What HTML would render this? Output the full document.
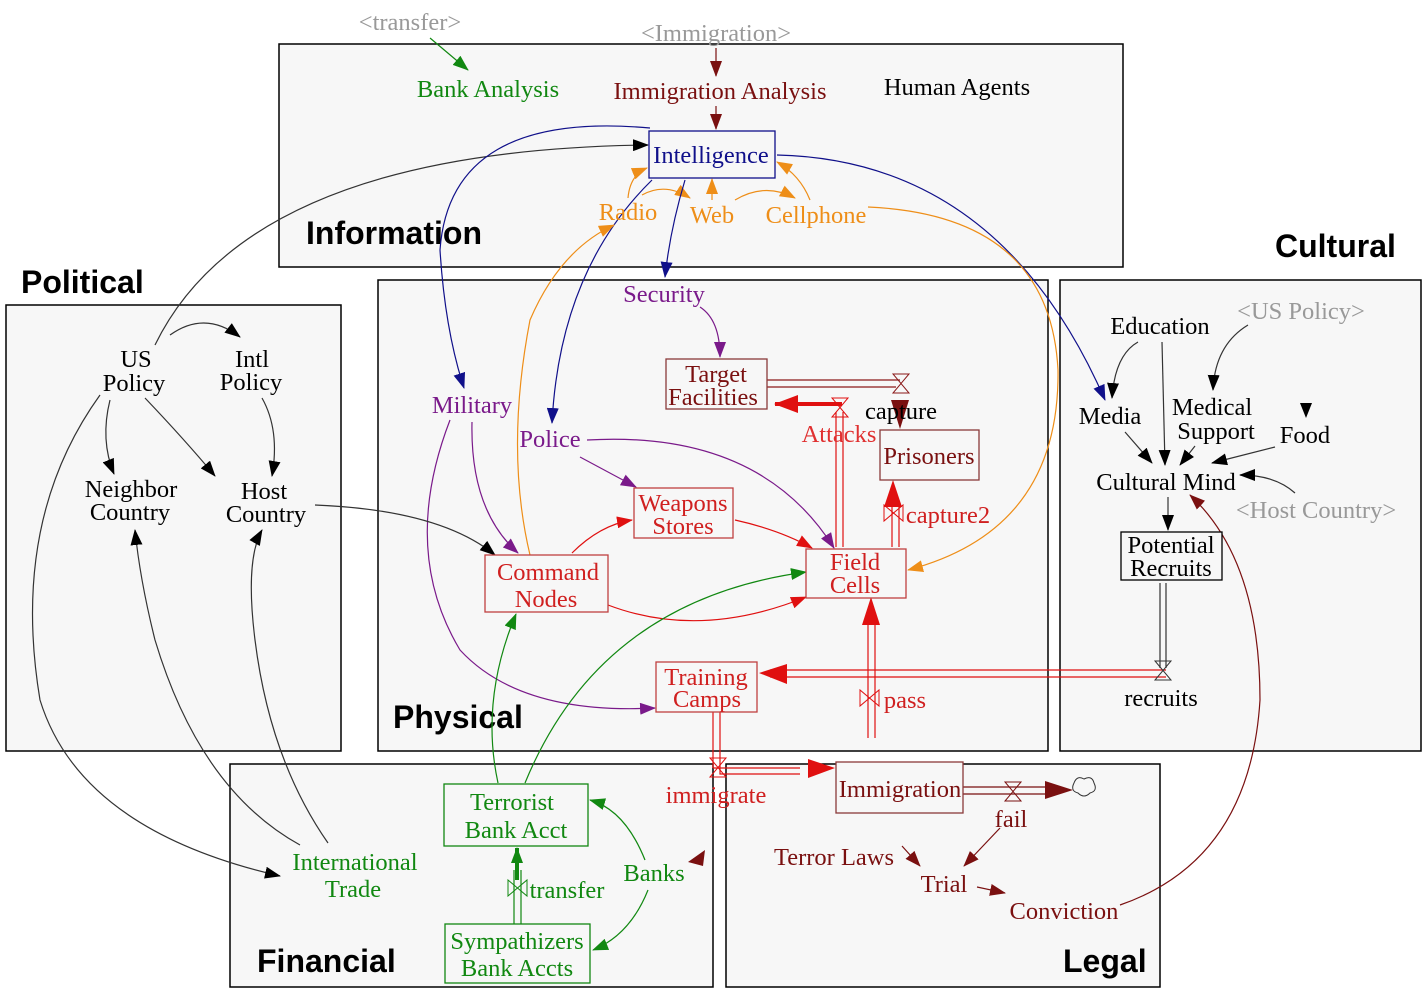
<!DOCTYPE html>
<html><head><meta charset="utf-8"><style>
body{margin:0;background:#fff}
svg text{font-family:"Liberation Serif",serif;font-size:24.5px}
.t{font-family:"Liberation Sans",sans-serif;font-weight:bold;font-size:32px;fill:#000}
.p{fill:#f7f7f7;stroke:#000;stroke-width:1.5}
</style></head><body>
<svg width="1422" height="1000" viewBox="0 0 1422 1000" xmlns="http://www.w3.org/2000/svg">
<defs>
<marker id="g" markerWidth="16" markerHeight="12" refX="15" refY="6" orient="auto" markerUnits="userSpaceOnUse" viewBox="0 0 16 12"><path d="M0,0 L16,6 L0,12z" fill="#118811"/></marker>
<marker id="d" markerWidth="16" markerHeight="12" refX="15" refY="6" orient="auto" markerUnits="userSpaceOnUse" viewBox="0 0 16 12"><path d="M0,0 L16,6 L0,12z" fill="#7a1010"/></marker>
<marker id="r" markerWidth="16" markerHeight="12" refX="15" refY="6" orient="auto" markerUnits="userSpaceOnUse" viewBox="0 0 16 12"><path d="M0,0 L16,6 L0,12z" fill="#e01010"/></marker>
<marker id="R" markerWidth="24" markerHeight="18" refX="23" refY="9" orient="auto" markerUnits="userSpaceOnUse" viewBox="0 0 24 18"><path d="M0,0 L24,9 L0,18z" fill="#e01010"/></marker>
<marker id="u" markerWidth="16" markerHeight="12" refX="15" refY="6" orient="auto" markerUnits="userSpaceOnUse" viewBox="0 0 16 12"><path d="M0,0 L16,6 L0,12z" fill="#7a1a8a"/></marker>
<marker id="o" markerWidth="16" markerHeight="12" refX="15" refY="6" orient="auto" markerUnits="userSpaceOnUse" viewBox="0 0 16 12"><path d="M0,0 L16,6 L0,12z" fill="#ee8e18"/></marker>
<marker id="n" markerWidth="16" markerHeight="12" refX="15" refY="6" orient="auto" markerUnits="userSpaceOnUse" viewBox="0 0 16 12"><path d="M0,0 L16,6 L0,12z" fill="#10108a"/></marker>
<marker id="b" markerWidth="16" markerHeight="12" refX="15" refY="6" orient="auto" markerUnits="userSpaceOnUse" viewBox="0 0 16 12"><path d="M0,0 L16,6 L0,12z" fill="#000"/></marker>
</defs>
<rect class="p" x="279" y="44" width="844" height="223"/>
<rect class="p" x="6" y="305" width="335" height="446"/>
<rect class="p" x="378" y="280" width="670" height="471"/>
<rect class="p" x="1060" y="280" width="361" height="471"/>
<rect class="p" x="230" y="764" width="483" height="223"/>
<rect class="p" x="726" y="764" width="434" height="223"/>
<text class="t" x="306" y="244">Information</text>
<text class="t" x="21" y="293">Political</text>
<text class="t" x="1275" y="257">Cultural</text>
<text class="t" x="393" y="728">Physical</text>
<text class="t" x="257" y="972">Financial</text>
<text class="t" x="1063" y="972">Legal</text>
<g fill="none" stroke-width="1.2">
<path d="M430,38 L468,70" stroke="#118811" marker-end="url(#g)"/>
<path d="M716,48 L716,76" stroke="#7a1010" marker-end="url(#d)"/>
<path d="M716,106 L716,129" stroke="#7a1010" marker-end="url(#d)"/>
<path d="M628,198 Q630,175 647,168" stroke="#ee8e18" marker-end="url(#o)"/>
<path d="M712,200 L712,179" stroke="#ee8e18" marker-end="url(#o)"/>
<path d="M810,200 Q800,175 777,162" stroke="#ee8e18" marker-end="url(#o)"/>
<path d="M642,195 Q665,182 690,198" stroke="#ee8e18" marker-end="url(#o)"/>
<path d="M735,200 Q765,182 795,198" stroke="#ee8e18" marker-end="url(#o)"/>
<path d="M155,345 Q250,150 648,145" stroke="#333" marker-end="url(#b)"/>
<path d="M650,128 Q450,110 440,250 Q445,330 464,388" stroke="#10108a" marker-end="url(#n)"/>
<path d="M652,180 Q560,270 552,423" stroke="#10108a" marker-end="url(#n)"/>
<path d="M685,180 Q670,230 665,277" stroke="#10108a" marker-end="url(#n)"/>
<path d="M777,155 Q1000,160 1105,400" stroke="#10108a" marker-end="url(#n)"/>
<path d="M868,207 Q1050,215 1058,370 Q1060,530 908,570" stroke="#ee8e18" marker-end="url(#o)"/>
<path d="M530,555 Q505,450 530,320 Q560,250 614,225" stroke="#ee8e18" marker-end="url(#o)"/>
<path d="M700,307 Q720,320 720,357" stroke="#7a1a8a" marker-end="url(#u)"/>
<path d="M472,422 Q470,510 518,553" stroke="#7a1a8a" marker-end="url(#u)"/>
<path d="M580,457 L636,487" stroke="#7a1a8a" marker-end="url(#u)"/>
<path d="M587,440 Q760,430 834,548" stroke="#7a1a8a" marker-end="url(#u)"/>
<path d="M450,420 Q400,550 460,650 Q520,715 655,708" stroke="#7a1a8a" marker-end="url(#u)"/>
<path d="M572,553 Q600,525 632,520" stroke="#e01010" marker-end="url(#r)"/>
<path d="M735,520 Q780,530 812,548" stroke="#e01010" marker-end="url(#r)"/>
<path d="M608,605 Q700,640 806,597" stroke="#e01010" marker-end="url(#r)"/>
<path d="M315,505 Q440,510 495,555" stroke="#333" marker-end="url(#b)"/>
<path d="M767,380 H900 M767,387 H896" stroke="#8b1a1a"/>
<path d="M836,547 V412 M843,547 V412" stroke="#e01010"/>
<path d="M842,404 H775" stroke="#e01010" stroke-width="4" marker-end="url(#R)"/>
<path d="M868,738 V625 M875,738 V625" stroke="#e01010"/>
<path d="M892,547 V500 M899,547 V500" stroke="#e01010"/>
<path d="M1160,583 V668 M1166,583 V668" stroke="#333"/>
<path d="M1166,670 H770 M1166,677 H770" stroke="#e01010"/>
<path d="M713,712 V768 M720,712 V774 H800 M713,768 H800" stroke="#e01010"/>
<path d="M963,787 H1050 M963,794 H1050" stroke="#7a1010"/>
<path d="M1138,342 Q1115,355 1112,398" stroke="#333" marker-end="url(#b)"/>
<path d="M1162,342 L1165,465" stroke="#333" marker-end="url(#b)"/>
<path d="M1248,325 Q1215,345 1213,390" stroke="#333" marker-end="url(#b)"/>
<path d="M1125,432 L1152,463" stroke="#333" marker-end="url(#b)"/>
<path d="M1195,446 L1180,465" stroke="#333" marker-end="url(#b)"/>
<path d="M1275,447 L1212,463" stroke="#333" marker-end="url(#b)"/>
<path d="M1295,493 Q1275,475 1240,475" stroke="#333" marker-end="url(#b)"/>
<path d="M1168,497 L1168,530" stroke="#333" marker-end="url(#b)"/>
<path d="M1120,905 Q1250,860 1260,700 Q1260,560 1190,495" stroke="#7a1010" marker-end="url(#d)"/>
<path d="M170,335 Q205,310 240,337" stroke="#333" marker-end="url(#b)"/>
<path d="M110,400 Q100,440 114,474" stroke="#333" marker-end="url(#b)"/>
<path d="M145,398 Q185,440 215,476" stroke="#333" marker-end="url(#b)"/>
<path d="M262,398 Q280,430 272,476" stroke="#333" marker-end="url(#b)"/>
<path d="M100,395 Q10,520 40,700 Q80,830 280,876" stroke="#333" marker-end="url(#b)"/>
<path d="M300,845 Q200,790 155,640 Q140,580 135,530" stroke="#333" marker-end="url(#b)"/>
<path d="M328,843 Q270,760 255,640 Q245,560 262,530" stroke="#333" marker-end="url(#b)"/>
<path d="M498,783 Q480,700 516,614" stroke="#118811" marker-end="url(#g)"/>
<path d="M525,783 Q600,600 806,572" stroke="#118811" marker-end="url(#g)"/>
<path d="M514,924 V870 M521,924 V870" stroke="#118811"/>
<path d="M517,880 V848" stroke="#118811" stroke-width="4" marker-end="url(#g)"/>
<path d="M645,860 Q625,810 590,800" stroke="#118811" marker-end="url(#g)"/>
<path d="M648,890 Q630,935 593,950" stroke="#118811" marker-end="url(#g)"/>
<path d="M902,846 L920,866" stroke="#7a1010" marker-end="url(#d)"/>
<path d="M1000,828 L964,866" stroke="#7a1010" marker-end="url(#d)"/>
<path d="M977,887 L1005,893" stroke="#7a1010" marker-end="url(#d)"/>
</g>
<path d="M891,400 L909,400 L900,429z" fill="#7a1010"/>
<path d="M893,480 L884,507 L902,507z" fill="#e01010"/>
<path d="M871,597 L862,625 L880,625z" fill="#e01010"/>
<path d="M759,673 L787,664 L787,684z" fill="#e01010"/>
<path d="M835,768 L808,759 L808,778z" fill="#e01010"/>
<path d="M1073,790 L1045,781 L1045,799z" fill="#7a1010"/>
<path d="M1300,403 L1312,403 L1306,418z" fill="#000"/>
<path d="M705,850 L688,862 L703,866z" fill="#7a1010"/>
<g stroke-width="1" fill="none">
<path d="M893,374 h16 l-16,19 h16z" stroke="#8b1a1a"/>
<path d="M832,398 h16 l-16,19 h16z" stroke="#e01010"/>
<path d="M1155,661 h16 l-16,19 h16z" stroke="#333"/>
<path d="M710,758 h16 l-16,19 h16z" stroke="#e01010"/>
<path d="M1005,782 h16 l-16,19 h16z" stroke="#7a1010"/>
<path d="M884,505 v16 l19,-16 v16z" stroke="#e01010"/>
<path d="M860,690 v16 l19,-16 v16z" stroke="#e01010"/>
<path d="M508,880 v16 l19,-16 v16z" stroke="#118811"/>
<path d="M1074,783 q3,-8 10,-4 q8,-4 10,4 q4,8 -4,10 q-6,6 -12,0 q-8,-2 -4,-10z" stroke="#333"/>
</g>
<g stroke-width="1.3" fill="#f7f7f7">
<rect x="649" y="131" width="126" height="47" stroke="#10108a"/>
<rect x="666" y="359" width="101" height="50" stroke="#8b3a3a"/>
<rect x="880" y="430" width="99" height="50" stroke="#8b3a3a"/>
<rect x="634" y="488" width="99" height="50" stroke="#c04040"/>
<rect x="485" y="555" width="123" height="57" stroke="#c04040"/>
<rect x="806" y="549" width="100" height="49" stroke="#c04040"/>
<rect x="656" y="662" width="101" height="50" stroke="#c04040"/>
<rect x="1121" y="532" width="101" height="48" stroke="#000"/>
<rect x="444" y="784" width="144" height="62" stroke="#118811"/>
<rect x="445" y="924" width="145" height="59" stroke="#118811"/>
<rect x="836" y="762" width="127" height="51" stroke="#8b3a3a"/>
</g>
<g text-anchor="middle">
<text x="410" y="30" fill="#999">&lt;transfer&gt;</text>
<text x="488" y="97" fill="#118811">Bank Analysis</text>
<text x="716" y="41" fill="#999">&lt;Immigration&gt;</text>
<text x="720" y="99" fill="#7a1010">Immigration Analysis</text>
<text x="957" y="95" fill="#000">Human Agents</text>
<text x="711" y="163" fill="#10108a">Intelligence</text>
<text x="628" y="220" fill="#ee8e18">Radio</text>
<text x="712" y="223" fill="#ee8e18">Web</text>
<text x="816" y="223" fill="#ee8e18">Cellphone</text>
<text x="664" y="302" fill="#7a1a8a">Security</text>
<text x="716" y="382" fill="#7a1010">Target</text><text x="713" y="405" fill="#7a1010">Facilities</text>
<text x="901" y="419" fill="#000">capture</text>
<text x="839" y="442" fill="#e03030">Attacks</text>
<text x="929" y="464" fill="#7a1010">Prisoners</text>
<text x="472" y="413" fill="#7a1a8a">Military</text>
<text x="550" y="447" fill="#7a1a8a">Police</text>
<text x="683" y="511" fill="#d02020">Weapons</text><text x="683" y="534" fill="#d02020">Stores</text>
<text x="948" y="523" fill="#d02020">capture2</text>
<text x="548" y="580" fill="#d02020">Command</text><text x="546" y="607" fill="#d02020">Nodes</text>
<text x="855" y="570" fill="#d02020">Field</text><text x="855" y="593" fill="#d02020">Cells</text>
<text x="706" y="685" fill="#d02020">Training</text><text x="707" y="707" fill="#d02020">Camps</text>
<text x="905" y="708" fill="#d02020">pass</text>
<text x="1301" y="319" fill="#999">&lt;US Policy&gt;</text>
<text x="1160" y="334" fill="#000">Education</text>
<text x="1110" y="424" fill="#000">Media</text>
<text x="1212" y="415" fill="#000">Medical</text><text x="1216" y="439" fill="#000">Support</text>
<text x="1305" y="443" fill="#000">Food</text>
<text x="1166" y="490" fill="#000">Cultural  Mind</text>
<text x="1316" y="518" fill="#999">&lt;Host Country&gt;</text>
<text x="1171" y="553" fill="#000">Potential</text><text x="1171" y="576" fill="#000">Recruits</text>
<text x="1161" y="706" fill="#000">recruits</text>
<text x="136" y="367" fill="#000">US</text><text x="134" y="391" fill="#000">Policy</text>
<text x="252" y="367" fill="#000">Intl</text><text x="251" y="390" fill="#000">Policy</text>
<text x="131" y="497" fill="#000">Neighbor</text><text x="130" y="520" fill="#000">Country</text>
<text x="264" y="499" fill="#000">Host</text><text x="266" y="522" fill="#000">Country</text>
<text x="512" y="810" fill="#118811">Terrorist</text><text x="516" y="838" fill="#118811">Bank Acct</text>
<text x="355" y="870" fill="#118811">International</text><text x="353" y="897" fill="#118811">Trade</text>
<text x="567" y="898" fill="#118811">transfer</text>
<text x="654" y="881" fill="#118811">Banks</text>
<text x="517" y="949" fill="#118811">Sympathizers</text><text x="517" y="976" fill="#118811">Bank Accts</text>
<text x="716" y="803" fill="#d02020">immigrate</text>
<text x="900" y="797" fill="#7a1010">Immigration</text>
<text x="1011" y="827" fill="#7a1010">fail</text>
<text x="834" y="865" fill="#7a1010">Terror  Laws</text>
<text x="944" y="892" fill="#7a1010">Trial</text>
<text x="1064" y="919" fill="#7a1010">Conviction</text>
</g>
</svg>
</body></html>
